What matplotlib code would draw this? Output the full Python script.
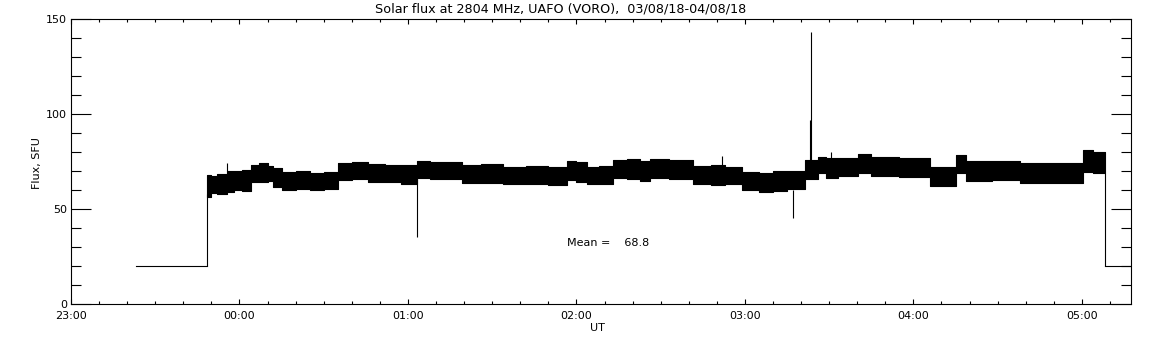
import pandas as pd
import matplotlib
matplotlib.use("Agg")
import matplotlib.pyplot as plt
import matplotlib.dates as mdates
from matplotlib.ticker import MultipleLocator

# --- data (flux in SFU, times UT) ---
title = "Solar flux at 2804 MHz, UAFO (VORO),  03/08/18-04/08/18"
mean_flux = 68.8
baseline_flux = 20.0

# flat "no signal" level before and after the observing run
base_before = ["23:23:00", "23:48:30"]
base_after = ["05:08:12", "05:17:30"]

# envelope of the noisy record: start time of each piece, lower / upper flux
env_time = [
    "23:48:30", "23:50:00", "23:52:00", "23:55:24", "23:58:00", "00:01:00",
    "00:04:06", "00:07:00", "00:10:00", "00:12:00", "00:15:00", "00:20:00",
    "00:25:00", "00:30:00", "00:35:12", "00:40:00", "00:45:54", "00:52:00",
    "00:57:42", "01:03:06", "01:08:00", "01:14:00", "01:19:06", "01:26:00",
    "01:33:54", "01:42:00", "01:50:00", "01:56:30", "02:00:00", "02:03:36",
    "02:08:00", "02:13:06", "02:18:00", "02:22:36", "02:26:12", "02:33:00",
    "02:41:36", "02:48:00", "02:53:00", "02:58:48", "03:05:00", "03:10:00",
    "03:15:00", "03:21:24", "03:26:06", "03:29:00", "03:33:00", "03:40:24",
    "03:45:00", "03:55:00", "04:05:54", "04:15:12", "04:18:54", "04:28:00",
    "04:37:54", "04:50:00", "05:00:30", "05:04:00", "05:08:12",
]
env_low = [
    56.5, 58.5, 58.0, 59.0, 60.0, 59.5,
    64.4, 64.0, 64.6, 61.5, 60.0, 60.4,
    60.0, 60.6, 65.3, 65.6, 64.0, 64.2,
    63.0, 66.2, 65.6, 65.8, 63.9, 63.6,
    63.0, 63.3, 62.8, 65.3, 64.0, 63.0,
    63.2, 66.5, 66.0, 64.5, 66.2, 66.0,
    63.0, 62.5, 63.2, 60.0, 58.8, 59.5,
    60.3, 66.0, 68.8, 66.5, 67.5, 68.8,
    67.4, 67.0, 62.3, 68.8, 65.0, 65.4,
    63.9, 63.5, 69.6, 69.0, 69.0,
]
env_high = [
    68.0, 67.5, 68.5, 70.2, 70.0, 70.6,
    73.2, 74.0, 72.6, 71.5, 69.3, 70.0,
    69.0, 69.6, 74.4, 75.0, 73.8, 73.2,
    73.0, 75.3, 75.0, 74.6, 73.2, 73.6,
    72.3, 72.6, 72.0, 75.3, 74.6, 72.3,
    72.8, 75.8, 76.4, 75.2, 76.2, 75.6,
    72.6, 73.0, 72.3, 69.6, 69.0, 69.8,
    70.0, 75.8, 77.2, 76.8, 77.0, 79.0,
    77.5, 77.0, 72.0, 78.4, 75.1, 75.3,
    74.2, 74.0, 81.1, 79.8, 79.8,
]

# single-sample spikes: time, from, to
spike_time = ["23:48:30", "23:55:24", "01:03:06", "02:51:54", "03:17:12",
              "03:23:24", "03:23:12", "03:30:30", "05:08:12"]
spike_low = [20.0, 70.0, 35.3, 72.0, 45.4, 75.0, 75.0, 76.0, 20.0]
spike_high = [58.0, 74.4, 66.0, 78.0, 60.0, 143.0, 97.0, 79.8, 69.0]

x_start = "23:00:00"
x_end = "05:17:30"


def to_time(hms_list):
    # run starts on 03/08/18 and goes past midnight into 04/08/18
    out = []
    for s in hms_list:
        day = "2018-08-03" if int(s[:2]) >= 12 else "2018-08-04"
        out.append(pd.Timestamp(day + " " + s))
    return out


def main() -> None:
    plt.rcParams['font.family'] = ['DejaVu Sans']
    plt.rcParams['font.size'] = 8

    fig = plt.figure(figsize=(11.52, 3.45), dpi=100)
    ax = fig.add_axes([71 / 1152, 41 / 345, 1060 / 1152, 285 / 345])

    t_env = to_time(env_time)
    ax.fill_between(t_env, env_low, env_high, step='post',
                    color='black', linewidth=0.8)

    tb = to_time(base_before)
    ax.plot(tb, [baseline_flux] * len(tb), color='black', lw=0.8)
    ta = to_time(base_after)
    ax.plot(ta, [baseline_flux] * len(ta), color='black', lw=0.8)

    ts = to_time(spike_time)
    ax.vlines(ts, spike_low, spike_high, color='black', lw=0.8)

    ax.text(to_time(["01:56:30"])[0], 32.0, "Mean =    %.1f" % mean_flux,
            ha='left', va='center', fontsize=8)

    ax.set_xlim(to_time([x_start])[0], to_time([x_end])[0])
    ax.set_ylim(0, 150)

    ax.xaxis.set_major_locator(mdates.HourLocator())
    ax.xaxis.set_minor_locator(mdates.MinuteLocator(byminute=range(0, 60, 10)))
    ax.xaxis.set_major_formatter(mdates.DateFormatter('%H:%M'))
    ax.yaxis.set_major_locator(MultipleLocator(50))
    ax.yaxis.set_minor_locator(MultipleLocator(10))

    ax.tick_params(axis='x', which='major', direction='in', length=3.6,
                   width=0.8, top=True, pad=5)
    ax.tick_params(axis='x', which='minor', direction='in', length=2.0,
                   width=0.8, top=True)
    ax.tick_params(axis='y', which='major', direction='in', length=14.4,
                   width=0.8, right=True, pad=3)
    ax.tick_params(axis='y', which='minor', direction='in', length=7.2,
                   width=0.8, right=True)
    for sp in ax.spines.values():
        sp.set_linewidth(0.8)

    fig.text(561 / 1152, 1 - 9 / 345, title, ha='center', va='center', fontsize=9.2)
    fig.text(37 / 1152, 1 - 163 / 345, "Flux, SFU", rotation=90,
             ha='center', va='center', fontsize=8)
    fig.text(597 / 1152, 1 - 328 / 345, "UT", ha='center', va='center', fontsize=8)

    fig.savefig("out.png", dpi=100)


if __name__ == "__main__":
    main()
